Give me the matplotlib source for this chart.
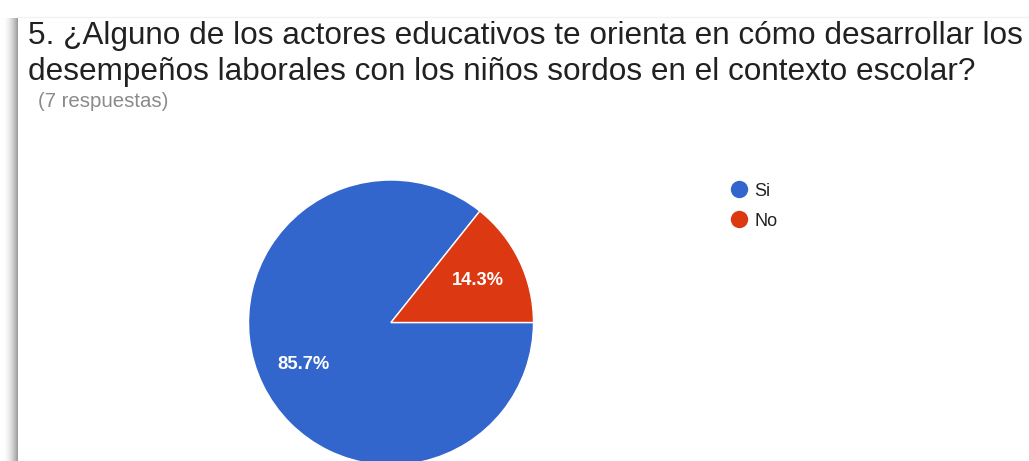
import numpy as np
import matplotlib
matplotlib.use('Agg')
import matplotlib.pyplot as plt

# Data
title_lines = ['5. ¿Alguno de los actores educativos te orienta en cómo desarrollar los',
               'desempeños laborales con los niños sordos en el contexto escolar?']
subtitle = '(7 respuestas)'
labels = ['Si', 'No']
counts = [6, 1]
colors = ['#3366cc', '#dc3912']

W, H = 1029, 461
plt.rcParams['font.family'] = ['Liberation Sans', 'DejaVu Sans']


def fx(px):
    return px / W


def fy(py):
    return 1 - py / H


def fit_width(txt, target_px):
    # scale the font so the text is as wide as in the screenshot
    r = fig.canvas.get_renderer()
    w = txt.get_window_extent(renderer=r).width
    txt.set_fontsize(txt.get_fontsize() * target_px / w)


fig = plt.figure(figsize=(W / 100, H / 100), dpi=100)
fig.patch.set_facecolor('white')

# Card shadow on the left edge
sh = fig.add_axes([fx(3), 0, fx(18) - fx(3), fy(18)])
g = 1 - 0.4 * np.linspace(0, 1, 60) ** 1.8
img = np.dstack([g, g, g]).reshape(1, -1, 3)
sh.imshow(img, aspect='auto', extent=(0, 1, 0, 1))
sh.axis('off')
fig.add_artist(plt.Line2D([fx(18), 1], [fy(17.5), fy(17.5)], color='#f2f2f2', lw=1))

# Title and subtitle
t1 = fig.text(fx(28), fy(44), title_lines[0], fontsize=21, color='#212121', va='baseline')
t2 = fig.text(fx(28), fy(80), title_lines[1], fontsize=21, color='#212121', va='baseline')
t3 = fig.text(fx(38), fy(107), subtitle, fontsize=11, color='#8a8a8a', va='baseline')
fit_width(t1, 993)
t2.set_fontsize(t1.get_fontsize())
fit_width(t3, 130)

# Pie
cx, cy, r = 391, 322.5, 142.5
ax = fig.add_axes([fx(cx - r), fy(cy + r), 2 * r / W, 2 * r / H])
wedges, texts, autotexts = ax.pie(
    counts, colors=colors, startangle=0, counterclock=False, radius=1,
    autopct='%1.1f%%', pctdistance=0.68,
    wedgeprops=dict(edgecolor='white', linewidth=1),
    textprops=dict(color='white', fontsize=13, fontweight='bold'))
ax.set_xlim(-1, 1)
ax.set_ylim(-1, 1)
for t in autotexts:
    fit_width(t, 52)

# Legend
for i, (lab, col) in enumerate(zip(labels, colors)):
    y = 189 + 30 * i
    fig.add_artist(plt.Line2D([fx(739)], [fy(y)], marker='o', markersize=12.5,
                              color=col, markeredgewidth=0))
    fig.text(fx(754), fy(y + 7), lab, fontsize=13, color='#222222', va='baseline')

fig.savefig('out.png', dpi=100, facecolor='white')
